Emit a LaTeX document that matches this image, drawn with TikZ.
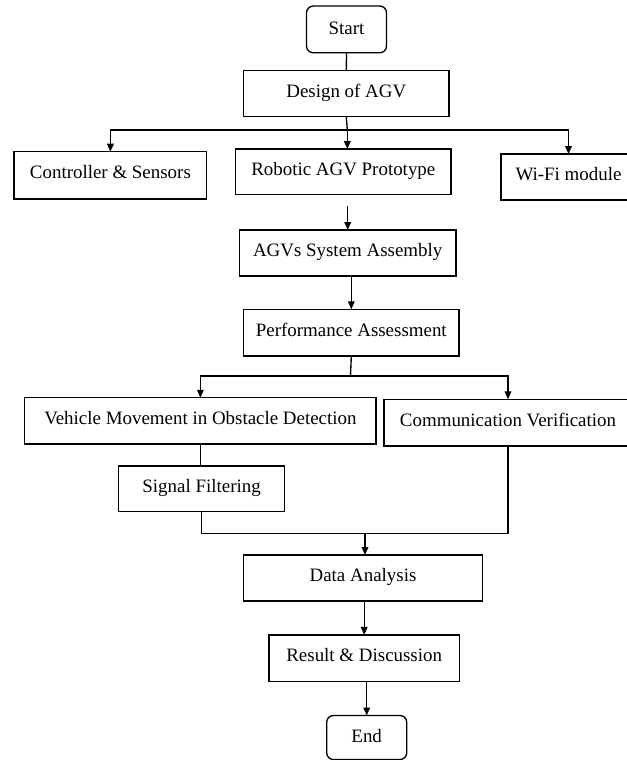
\documentclass[tikz,border=0pt]{standalone}
\usepackage{fontspec}
\setmainfont{Liberation Serif}
\usetikzlibrary{arrows.meta}

\tikzset{every picture/.style={line width=1pt}}
\tikzset{flowbox/.style={draw, rectangle, inner sep=0pt, outer sep=0pt, text height=10pt, text depth=5pt, minimum height=34.5pt, font=\fontsize{14.2}{17}\selectfont},
  terminal/.style={flowbox, rounded corners=5pt, text depth=2pt},
  flowarrow/.style={-{Triangle[length=6pt,width=5pt]}}}

\begin{document}
\begin{tikzpicture}[x=0.75pt,y=0.75pt,yscale=-1,xscale=1]
%set diagram left start at 0, and has height of 760
\useasboundingbox (0,0) rectangle (626,760);

%Shape: Rounded Rect
\draw (346.5,29.4) node [terminal, minimum width=60pt, minimum height=35pt] (start) {Start};
%Shape: Rectangle
\draw (346.3,93.7) node [flowbox, minimum width=154.1pt] (design) {Design of AGV};
%Shape: Rectangle
\draw (110.4,175.4) node [flowbox, minimum width=144.6pt, minimum height=35.5pt] (ctrl) {Controller \& Sensors};
%Shape: Rectangle
\draw (343.3,171.7) node [flowbox, minimum width=161.6pt, minimum height=34pt] (proto) {Robotic AGV Prototype};
%Shape: Rectangle
\draw (568.5,177) node [flowbox, minimum width=101.25pt] (wifi) {Wi-Fi module};
%Shape: Rectangle
\draw (347.7,253) node [flowbox, minimum width=162.4pt] (assembly) {AGVs System Assembly};
%Shape: Rectangle
\draw (351.3,332.7) node [flowbox, minimum width=161.6pt, minimum height=35pt] (perf) {Performance Assessment};
%Shape: Rectangle
\draw (200.4,420.9) node [flowbox, minimum width=263.4pt, minimum height=34.7pt] (vehicle) {Vehicle Movement in Obstacle Detection};
%Shape: Rectangle
\draw (508,422.7) node [flowbox, minimum width=186pt, minimum height=35pt] (comm) {Communication Verification};
%Shape: Rectangle
\draw (201.6,488.8) node [flowbox, minimum width=124.5pt, minimum height=34.3pt] (signal) {Signal Filtering};
%Shape: Rectangle
\draw (363,578) node [flowbox, minimum width=179.5pt] (data) {Data Analysis};
%Shape: Rectangle
\draw (364.2,658.3) node [flowbox, minimum width=142.7pt, minimum height=35pt] (result) {Result \& Discussion};
%Shape: Rounded Rect
\draw (366.7,737.5) node [terminal, minimum width=60pt, minimum height=33pt] (end) {End};

%Straight Lines
\coordinate (split1) at (347.3,130);
\coordinate (split2) at (350.5,376);
\coordinate (join) at (365,533.3);
\draw (start.south) -- (design.north);
\draw (design.south) -- (split1);
\draw [flowarrow] (split1) -| (ctrl.north);
\draw [flowarrow] (split1) -- (split1 |- proto.north);
\draw [flowarrow] (split1) -| (wifi.north);
\draw [flowarrow, shorten <=9pt] (assembly.north |- proto.south) -- (assembly.north);
\draw [flowarrow] (perf.north |- assembly.south) -- (perf.north);
\draw (perf.south) -- (split2);
\draw [flowarrow] (split2) -| (vehicle.north);
\draw [flowarrow] (split2) -| (comm.north);
\draw (vehicle.south) -- (vehicle.south |- signal.north);
\draw (signal.south) |- (join) -| (comm.south);
\draw [flowarrow] (join) -- (join |- data.north);
\draw [flowarrow] (result.north |- data.south) -- (result.north);
\draw [flowarrow] (result.south -| end.north) -- (end.north);

\end{tikzpicture}
\end{document}
